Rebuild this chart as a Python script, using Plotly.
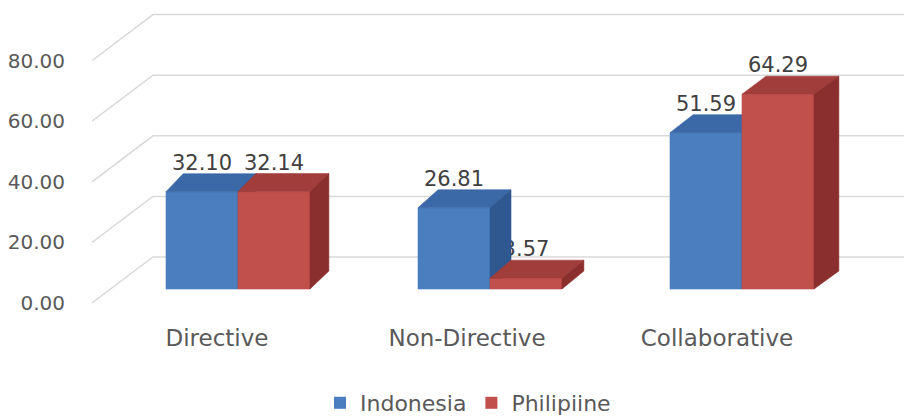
import plotly.graph_objects as go

# ---------------- data ----------------
categories = ["Directive", "Non-Directive", "Collaborative"]
series_names = ["Indonesia", "Philipiine"]
indonesia = [32.10, 26.81, 51.59]
philipiine = [32.14, 3.57, 64.29]
tick_values = [0, 20, 40, 60, 80]

# ---------------- style ----------------
W, H = 904, 417
M_L, M_R, M_T, M_B = 92, 0, 0, 99
PX_CAT = 252.0           # pixels per category unit (bar plane)
PX_VAL = 3.03            # pixels per value unit
CAT0_PX = 238.0          # pixel x of first category centre (bar plane)
BASE_PX = 289.0          # pixel y of value 0 (bar plane)
BAR_W = 72.0 / PX_CAT
BAR_DY = 18.0 / PX_VAL   # depth of bars (vertical part)
FRONT_DY = -14.0 / PX_VAL   # label plane relative to bar plane
WALL_DY = 32.0 / PX_VAL     # back wall relative to bar plane
WALL_X = (153.0 - CAT0_PX) / PX_CAT
LABEL_DY = 27.0 / PX_VAL
LAB_CAT0_PX, LAB_CAT_STEP = 217.0, 250.0

plot_w = W - M_L - M_R
plot_h = H - M_T - M_B
x_range = [(M_L - CAT0_PX) / PX_CAT, (W - M_R - CAT0_PX) / PX_CAT]
y_range = [(BASE_PX - (H - M_B)) / PX_VAL, (BASE_PX - M_T) / PX_VAL]
y2_range = [y_range[0] - FRONT_DY, y_range[1] - FRONT_DY]
x2_range = [(M_L - LAB_CAT0_PX) / LAB_CAT_STEP, (W - M_R - LAB_CAT0_PX) / LAB_CAT_STEP]

colors = {
    "Indonesia": {"front": "#4a7ebe", "top": "#3b68a6", "side": "#2f5890"},
    "Philipiine": {"front": "#c14f4b", "top": "#a13d3a", "side": "#8a2f2d"},
}
GRID = "#d9d9d9"
FONT = "DejaVu Sans"


def depth_dx(x):
    # slight perspective: deeper offset further right
    return (18.0 + 3.0 * x) / PX_CAT


fig = go.Figure()

# ---- gridlines: diagonal from front plane to wall, then along back wall ----
gx, gy = [], []
for v in tick_values:
    gx += [x_range[0], WALL_X, x_range[1], None]
    gy += [v + FRONT_DY, v + WALL_DY, v + WALL_DY, None]
fig.add_trace(go.Scatter(x=gx, y=gy, mode="lines", line=dict(color=GRID, width=1.5),
                         hoverinfo="skip", showlegend=False))

# ---- data labels (drawn before bars so a bar can hide part of a label) ----
lx, ly, lt = [], [], []
for s, vals in enumerate([indonesia, philipiine]):
    for i, v in enumerate(vals):
        x0 = i + (s - 1) * BAR_W
        lx.append(x0 + BAR_W / 2)
        ly.append(v + LABEL_DY)
        lt.append(f"{v:.2f}")
fig.add_trace(go.Scatter(x=lx, y=ly, text=lt, mode="text", textposition="middle center",
                         textfont=dict(family=FONT, size=21, color="#404040"),
                         hoverinfo="skip", showlegend=False))


def poly(xs, ys, color):
    fig.add_trace(go.Scatter(x=xs + [xs[0]], y=ys + [ys[0]], mode="lines", fill="toself",
                             fillcolor=color, line=dict(color=color, width=0.6),
                             hoverinfo="skip", showlegend=False))


# ---- 3D bars ----
for i in range(len(categories)):
    for s, (name, vals) in enumerate(zip(series_names, [indonesia, philipiine])):
        v = vals[i]
        x0 = i + (s - 1) * BAR_W
        x1 = x0 + BAR_W
        d0, d1 = depth_dx(x0), depth_dx(x1)
        c = colors[name]
        poly([x0, x1, x1, x0], [0, 0, v, v], c["front"])
        poly([x0, x1, x1 + d1, x0 + d0], [v, v, v + BAR_DY, v + BAR_DY], c["top"])
        poly([x1, x1 + d1, x1 + d1, x1], [0, BAR_DY, v + BAR_DY, v], c["side"])

# ---- legend entries ----
for name in series_names:
    fig.add_trace(go.Bar(x=[None], y=[None], name=name, marker_color=colors[name]["front"]))

# ---- axis helper trace for label axes ----
fig.add_trace(go.Scatter(x=[0], y=[0], xaxis="x2", yaxis="y2", mode="markers",
                         marker=dict(opacity=0), hoverinfo="skip", showlegend=False))

fig.update_layout(
    template="none",
    width=W, height=H,
    margin=dict(l=M_L, r=M_R, t=M_T, b=M_B, autoexpand=False),
    paper_bgcolor="white", plot_bgcolor="white",
    xaxis=dict(range=x_range, visible=False, fixedrange=True, automargin=False),
    yaxis=dict(range=y_range, visible=False, fixedrange=True, automargin=False),
    xaxis2=dict(range=x2_range, overlaying="x", anchor="y2", side="bottom",
                tickmode="array", tickvals=list(range(len(categories))), ticktext=categories,
                showgrid=False, zeroline=False, showline=False, ticks="",
                ticklabelstandoff=4, automargin=False,
                tickfont=dict(family=FONT, size=23, color="#595959"), fixedrange=True),
    yaxis2=dict(range=y2_range, overlaying="y", anchor="x2", side="left",
                tickmode="array", tickvals=tick_values,
                ticktext=[f"{t:.2f}" for t in tick_values],
                showgrid=False, zeroline=False, showline=False, ticks="",
                ticklabelstandoff=26, automargin=False,
                tickfont=dict(family=FONT, size=20, color="#595959"), fixedrange=True),
    barmode="overlay",
    showlegend=True,
    legend=dict(orientation="h", xref="container", yref="container",
                x=468 / W, xanchor="center",
                y=1 - 403 / H, yanchor="middle",
                font=dict(family=FONT, size=22, color="#595959"),
                bgcolor="rgba(0,0,0,0)"),
)

fig.write_html("out.html")
